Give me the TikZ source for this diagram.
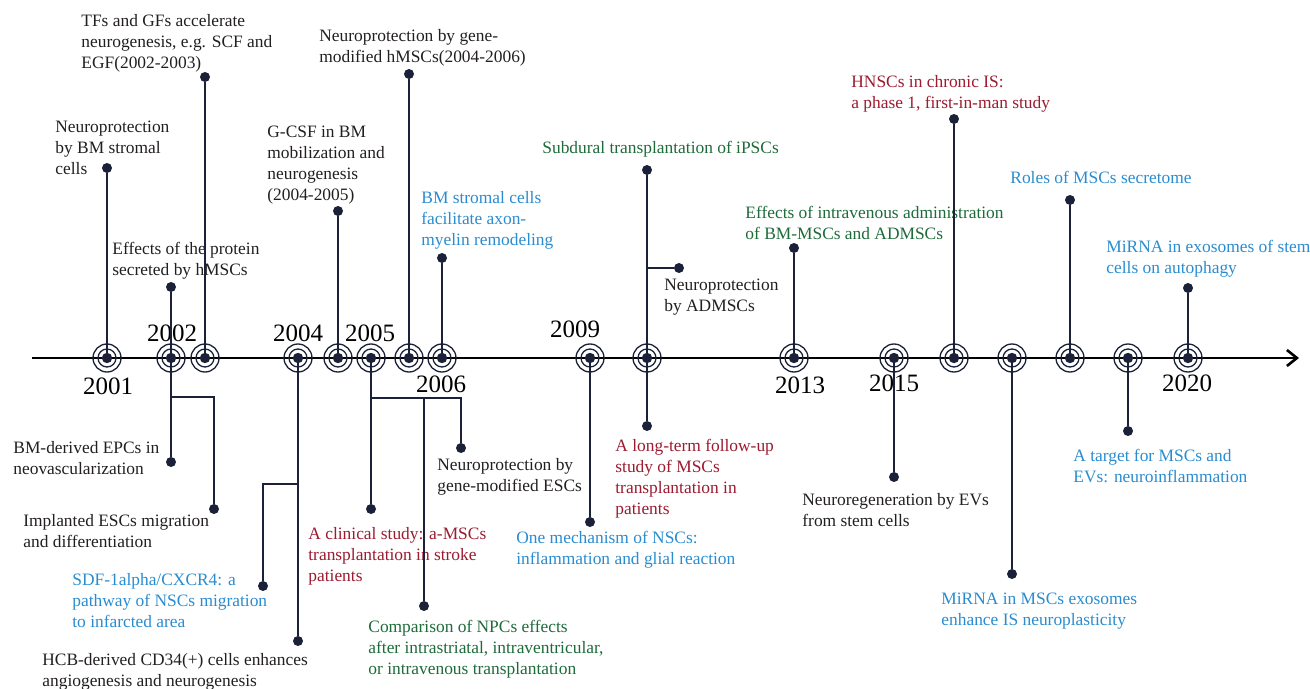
\documentclass[tikz,border=0pt]{standalone}
\usepackage{fontspec}
\setmainfont{Liberation Serif}
\usetikzlibrary{arrows.meta}

\definecolor{navy}{HTML}{1B2138}
\definecolor{tblack}{HTML}{231F20}
\definecolor{tred}{HTML}{9B1B30}
\definecolor{tgreen}{HTML}{1E6B3A}
\definecolor{tblue}{HTML}{2A8CCF}

\tikzset{
  ev/.style={anchor=north west, align=left, inner sep=0pt, text=tblack,
    yshift=1pt, font=\fontsize{8.7}{10.5}\selectfont},
  yr/.style={inner sep=0pt, font=\fontsize{12.5}{14}\selectfont},
  pin/.style={circle, fill=navy, inner sep=0pt, minimum size=5pt},
  stem/.style={navy, line width=0.75pt},
  ring/.style={navy, line width=0.65pt},
}

\begin{document}
\begin{tikzpicture}[x=0.5pt, y=-0.5pt]
\useasboundingbox (0,0) rectangle (1310,689);

\coordinate (ax0) at (32,358);
\coordinate (ax1) at (1299,358);
\draw[line width=1.3pt, -{Straight Barb[length=5pt, width=8pt]}] (ax0) -- (ax1);

\foreach \n/\x in {1/107, 2/171, 3/205, 4/298, 5/338, 6/371, 7/409, 8/442,
  9/590, 10/647, 11/794, 12/894, 13/954, 14/1012, 15/1070, 16/1128, 17/1188}
  \coordinate (m\n) at (\x,358);

% years
\node[yr] (y2001) at (108,386) {2001};
\node[yr] (y2002) at (172,333) {2002};
\node[yr] (y2004) at (298,333) {2004};
\node[yr] (y2005) at (370,333) {2005};
\node[yr] (y2006) at (441,384) {2006};
\node[yr] (y2009) at (575,329) {2009};
\node[yr] (y2013) at (800,385) {2013};
\node[yr] (y2015) at (894,383) {2015};
\node[yr] (y2020) at (1187,383) {2020};

% events above the axis
\node[pin] (p1) at (107,168) {};
\node[pin] (p2) at (171,287) {};
\node[pin] (p3) at (205,77) {};
\node[pin] (p5) at (338,211) {};
\node[pin] (p7) at (409,74) {};
\node[pin] (p8) at (442,258) {};
\node[pin] (p10) at (647,170) {};
\node[pin] (p10b) at (679,268) {};
\node[pin] (p11) at (794,248) {};
\node[pin] (p13) at (954,119) {};
\node[pin] (p15) at (1070,200) {};
\node[pin] (p17) at (1188,288) {};

\node[ev] (bmstromal) at (55,123) {Neuroprotection\\by BM stromal\\cells};
\node[ev] (tfsgfs) at (81,16) {TFs and GFs accelerate\\neurogenesis, e.g. SCF and\\EGF(2002-2003)};
\node[ev] (protein) at (112,244) {Effects of the protein\\secreted by hMSCs};
\node[ev] (gcsf) at (267,128) {G-CSF in BM\\mobilization and\\neurogenesis\\(2004-2005)};
\node[ev] (genehmsc) at (319,31) {Neuroprotection by gene-\\modified hMSCs(2004-2006)};
\node[ev, text=tblue] (axon) at (421,193) {BM stromal cells\\facilitate axon-\\myelin remodeling};
\node[ev, text=tgreen] (ipsc) at (542,143) {Subdural transplantation of iPSCs};
\node[ev] (admsc) at (664,281) {Neuroprotection\\by ADMSCs};
\node[ev, text=tgreen] (intraven) at (745,208) {Effects of intravenous administration\\of BM-MSCs and ADMSCs};
\node[ev, text=tred] (hnsc) at (851,77) {HNSCs in chronic IS:\\a phase 1, first-in-man study};
\node[ev, text=tblue] (secretome) at (1010,173) {Roles of MSCs secretome};
\node[ev, text=tblue] (autophagy) at (1106,242) {MiRNA in exosomes of stem\\cells on autophagy};

\coordinate (b10) at (647,268);
\draw[stem] (m1) -- (p1);
\draw[stem] (m2) -- (p2);
\draw[stem] (m3) -- (p3);
\draw[stem] (m5) -- (p5);
\draw[stem] (m7) -- (p7);
\draw[stem] (m8) -- (p8);
\draw[stem] (m10) -- (p10);
\draw[stem] (b10) -- (p10b);
\draw[stem] (m11) -- (p11);
\draw[stem] (m13) -- (p13);
\draw[stem] (m15) -- (p15);
\draw[stem] (m17) -- (p17);

% events below the axis
\node[pin] (q2) at (171,462) {};
\node[pin] (q2b) at (214,509) {};
\node[pin] (q4) at (298,641) {};
\node[pin] (q4b) at (263,586) {};
\node[pin] (q6) at (371,509) {};
\node[pin] (q6b) at (461,448) {};
\node[pin] (q6c) at (424,606) {};
\node[pin] (q9) at (590,522) {};
\node[pin] (q10) at (647,426) {};
\node[pin] (q12) at (894,477) {};
\node[pin] (q14) at (1012,574) {};
\node[pin] (q16) at (1128,431) {};

\node[ev] (epcs) at (13,443) {BM-derived EPCs in\\neovascularization};
\node[ev] (implanted) at (23,516) {Implanted ESCs migration\\and differentiation};
\node[ev] (hcb) at (42,655) {HCB-derived CD34(+) cells enhances\\angiogenesis and neurogenesis};
\node[ev, text=tblue] (sdf) at (72,575) {SDF-1alpha/CXCR4: a\\pathway of NSCs migration\\to infarcted area};
\node[ev, text=tred] (clinical) at (308,529) {A clinical study: a-MSCs\\transplantation in stroke\\patients};
\node[ev] (geneesc) at (437,460) {Neuroprotection by\\gene-modified ESCs};
\node[ev, text=tgreen] (npcs) at (368,622) {Comparison of NPCs effects\\after intrastriatal, intraventricular,\\or intravenous transplantation};
\node[ev, text=tblue] (mechnsc) at (516,533) {One mechanism of NSCs:\\inflammation and glial reaction};
\node[ev, text=tred] (longterm) at (615,441) {A long-term follow-up\\study of MSCs\\transplantation in\\patients};
\node[ev] (evs) at (802,495) {Neuroregeneration by EVs\\from stem cells};
\node[ev, text=tblue] (mirnamsc) at (941,595) {MiRNA in MSCs exosomes\\enhance IS neuroplasticity};
\node[ev, text=tblue] (target) at (1073,451) {A target for MSCs and\\EVs: neuroinflammation};

\coordinate (b2) at (171,397);
\coordinate (b4) at (298,484);
\coordinate (b6) at (371,398);
\coordinate (b6c) at (424,398);
\draw[stem] (m2) -- (q2);
\draw[stem] (b2) -| (q2b);
\draw[stem] (m4) -- (q4);
\draw[stem] (b4) -| (q4b);
\draw[stem] (m6) -- (q6);
\draw[stem] (b6) -| (q6b);
\draw[stem] (b6c) -- (q6c);
\draw[stem] (m9) -- (q9);
\draw[stem] (m10) -- (q10);
\draw[stem] (m12) -- (q12);
\draw[stem] (m14) -- (q14);
\draw[stem] (m16) -- (q16);

% year markers
\foreach \n in {1,...,17} {
  \draw[ring] (m\n) circle (7pt);
  \draw[ring] (m\n) circle (4.5pt);
  \fill[navy] (m\n) circle (2.6pt);
}
\end{tikzpicture}
\end{document}
